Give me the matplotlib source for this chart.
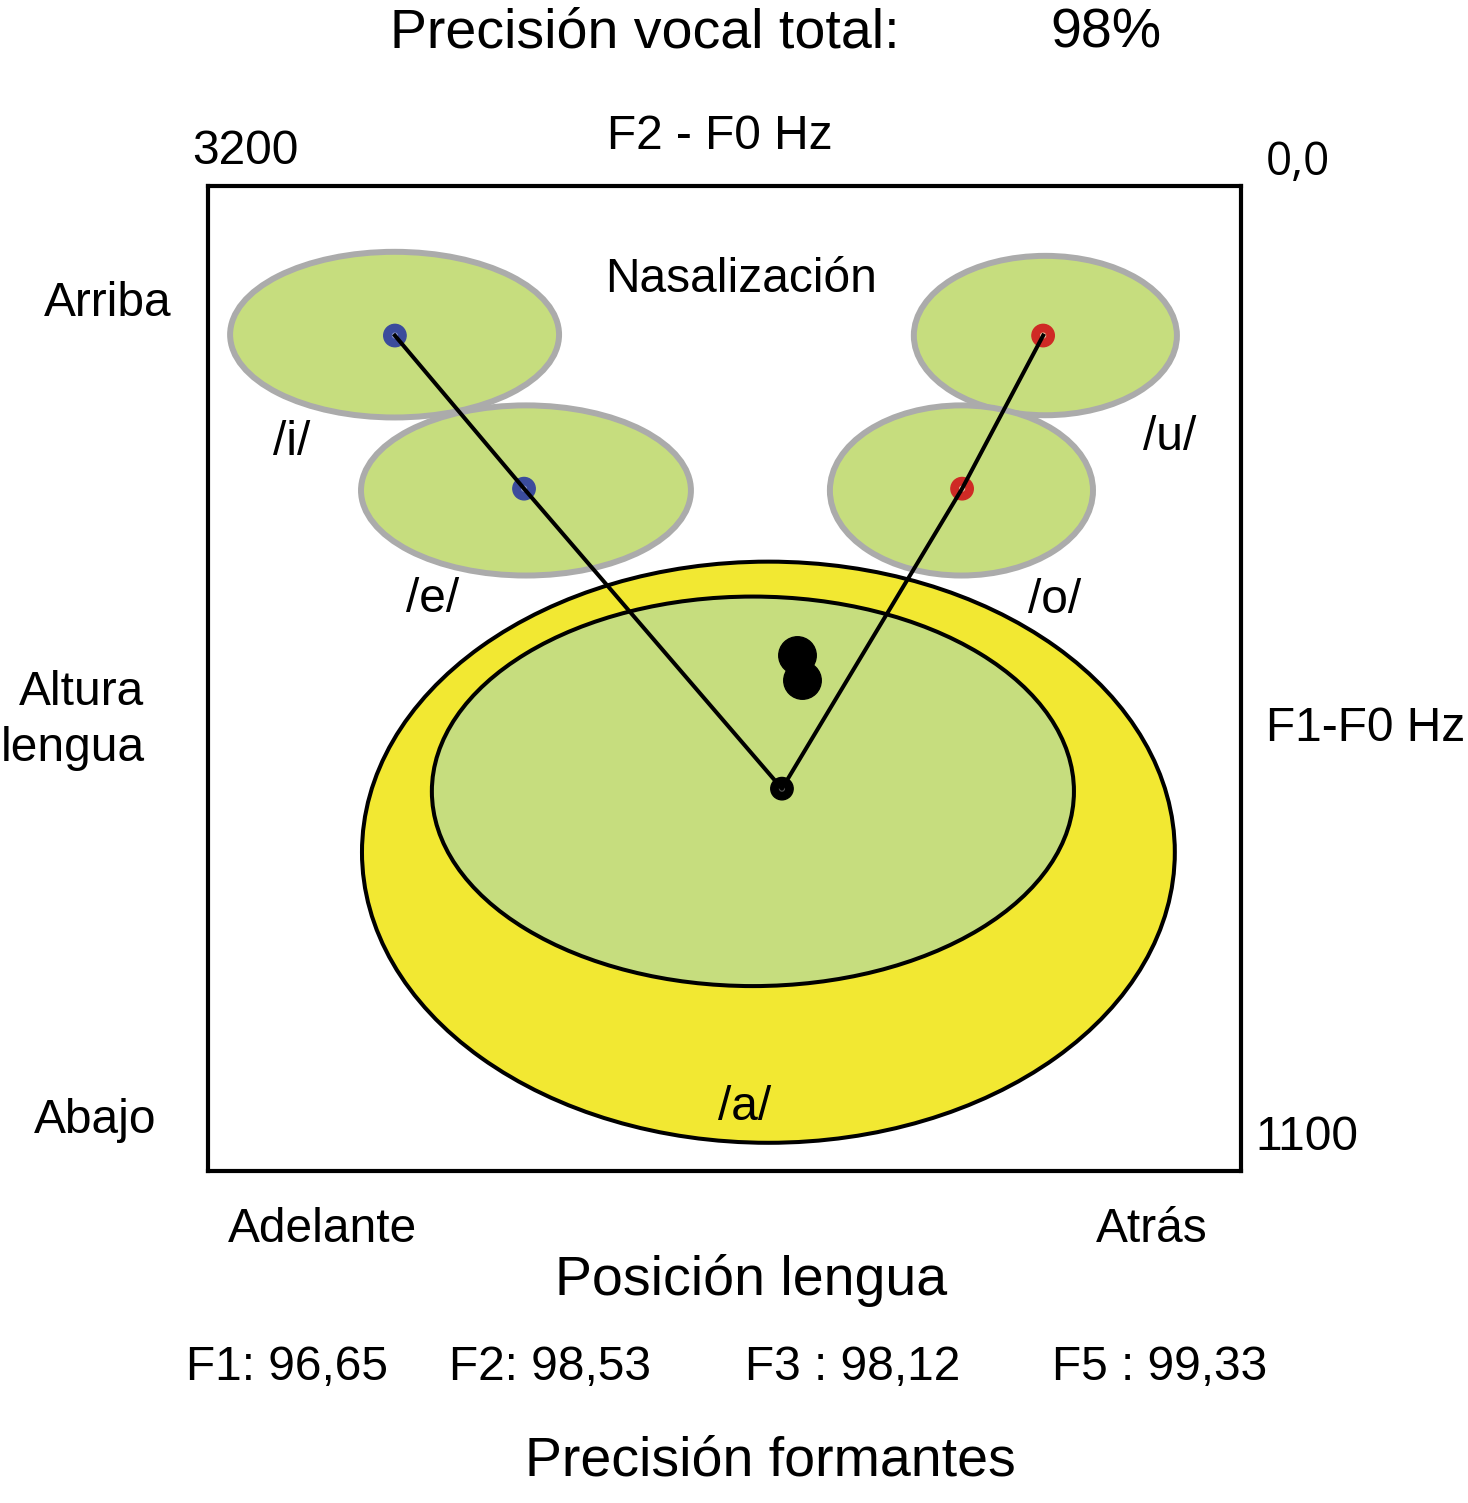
import matplotlib
matplotlib.use('Agg')
import matplotlib.pyplot as plt
from matplotlib.patches import Ellipse

# datos del grafico (Hz)
vocales = ['/i/', '/e/', '/u/', '/o/']
f2_centro = [2622, 2215, 606, 866]
f1_centro = [166, 340, 167, 340]
ancho_f2 = [1019, 1022, 815, 815]
alto_f1 = [185, 190, 178, 190]

# /a/ : zona externa (amarilla) e interna (verde)
a_f2 = [1464, 1512]
a_f1 = [744, 676]
a_ancho = [2518, 1989]
a_alto = [649, 435]

# trayectoria i - e - a - o - u
tray_f2 = [2621, 2221, 1422, 864, 613]
tray_f1 = [167, 338, 673, 338, 167]
tray_color = ['#3b4c9c', '#3b4c9c', 'black', '#cf2a25', '#cf2a25']

# nasalizacion
nasal_f2 = [1375, 1360]
nasal_f1 = [524, 552]

formantes = ['F1: ', 'F2: ', 'F3 : ', 'F5 : ']
precision = [96.65, 98.53, 98.12, 99.33]
precision_total = 98

W, H = 1468, 1503
fig = plt.figure(figsize=(W / 100, H / 100), dpi=100)
plt.rcParams['font.family'] = ['Liberation Sans', 'DejaVu Sans']

def fx(x):
    return x / W

def fy(y):
    return 1 - y / H

ax = fig.add_axes([fx(208), fy(1171), (1241 - 208) / W, (1171 - 186) / H])
ax.set_xlim(3200, 0)
ax.set_ylim(1100, 0)
ax.set_xticks([])
ax.set_yticks([])
for s in ax.spines.values():
    s.set_linewidth(3)

verde = '#c6dd7e'
gris = '#ababab'
for k in range(len(vocales)):
    e = Ellipse((f2_centro[k], f1_centro[k]), ancho_f2[k], alto_f1[k],
                facecolor=verde, edgecolor=gris, lw=4.3, zorder=2 + k)
    ax.add_patch(e)

ax.add_patch(Ellipse((a_f2[0], a_f1[0]), a_ancho[0], a_alto[0],
                     facecolor='#f2e832', edgecolor='black', lw=2.9, zorder=7))
ax.add_patch(Ellipse((a_f2[1], a_f1[1]), a_ancho[1], a_alto[1],
                     facecolor=verde, edgecolor='black', lw=2.9, zorder=8))

ax.plot(nasal_f2, nasal_f1, 'o', color='black', ms=27, zorder=9)
ax.scatter(tray_f2, tray_f1, s=260, c=tray_color, zorder=10)
ax.scatter(tray_f2, tray_f1, s=12, c=['#8a96c8', '#8a96c8', '#555555', '#f2b99a', '#f2b99a'], zorder=11)
ax.plot(tray_f2, tray_f1, color='black', lw=2.9, zorder=12)

chico = 34.5
grande = 40

def txt(x, y, s, size=chico, ha='center', **kw):
    fig.text(fx(x), fy(y), s, fontsize=size, ha=ha, va='baseline', **kw)

txt(390, 47, 'Precisión vocal total:', grande, ha='left')
txt(1050, 47, '%d%%' % precision_total, grande, ha='left')
txt(720, 149, 'F2 - F0 Hz')
txt(245, 164, '3200')
txt(1298, 175, '0,0', 33, family=['Open Sans', 'DejaVu Sans'])
txt(108, 316, 'Arriba')
txt(741, 292, 'Nasalización')
txt(292, 455, vocales[0])
txt(433, 612, vocales[1])
txt(1170, 450, vocales[2])
txt(1055, 613, vocales[3])
txt(82, 705, 'Altura')
txt(73, 761, 'lengua')
txt(1366, 741, 'F1-F0 Hz')
txt(95, 1133, 'Abajo')
txt(745, 1120, '/a/')
txt(1307, 1150, '1100')
txt(323, 1242, 'Adelante')
txt(1152, 1242, 'Atrás')
txt(751, 1295, 'Posición lengua', grande)
centros = [287, 550, 853, 1160]
for k in range(len(formantes)):
    txt(centros[k], 1380, formantes[k] + ('%.2f' % precision[k]).replace('.', ','))
txt(770, 1476, 'Precisión formantes', grande)

fig.savefig('out.png', dpi=100)
